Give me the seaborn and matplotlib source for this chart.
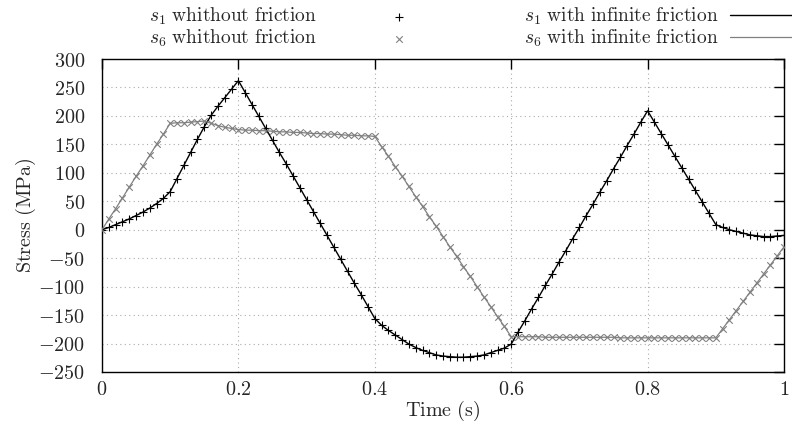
import numpy as np
import pandas as pd
import matplotlib
matplotlib.use("Agg")
import matplotlib.pyplot as plt
import seaborn as sns

# time samples (s)
time = [0.00, 0.01, 0.02, 0.03, 0.04, 0.05, 0.06, 0.07, 0.08, 0.09,
        0.10, 0.11, 0.12, 0.13, 0.14, 0.15, 0.16, 0.17, 0.18, 0.19,
        0.20, 0.21, 0.22, 0.23, 0.24, 0.25, 0.26, 0.27, 0.28, 0.29,
        0.30, 0.31, 0.32, 0.33, 0.34, 0.35, 0.36, 0.37, 0.38, 0.39,
        0.40, 0.41, 0.42, 0.43, 0.44, 0.45, 0.46, 0.47, 0.48, 0.49,
        0.50, 0.51, 0.52, 0.53, 0.54, 0.55, 0.56, 0.57, 0.58, 0.59,
        0.60, 0.61, 0.62, 0.63, 0.64, 0.65, 0.66, 0.67, 0.68, 0.69,
        0.70, 0.71, 0.72, 0.73, 0.74, 0.75, 0.76, 0.77, 0.78, 0.79,
        0.80, 0.81, 0.82, 0.83, 0.84, 0.85, 0.86, 0.87, 0.88, 0.89,
        0.90, 0.91, 0.92, 0.93, 0.94, 0.95, 0.96, 0.97, 0.98, 0.99,
        1.00]

# stress s1 (MPa)
s1 = [0, 4, 9, 14, 19, 25, 31, 38, 46, 55,
      67, 90, 113, 136, 159, 181, 201, 217, 232, 247,
      262, 241, 220, 199, 178, 157, 136, 116, 95, 74,
      53, 32, 11, -10, -31, -52, -73, -94, -114, -135,
      -156, -168, -177, -185, -193, -201, -207, -212, -216, -220,
      -222, -223, -224, -224, -223, -222, -220, -216, -212, -208,
      -201, -180, -160, -139, -119, -98, -78, -57, -37, -16,
      4, 25, 45, 66, 86, 107, 127, 148, 168, 189,
      209, 189, 169, 149, 129, 109, 89, 69, 49, 29,
      9, 4, 0, -3, -6, -9, -10.5, -12, -12, -11,
      -10]

# stress s6 (MPa)
s6 = [0, 19, 37, 56, 75, 94, 112, 131, 150, 168,
      187, 188, 188, 189, 190, 191, 187, 183, 180, 178,
      176, 175, 175, 174, 174, 173, 172, 172, 171, 171,
      170, 169, 169, 168, 168, 167, 166, 166, 165, 165,
      164, 146, 129, 111, 94, 76, 58, 41, 23, 6,
      -12, -30, -47, -65, -82, -100, -118, -135, -153, -170,
      -188, -188, -188, -188, -188, -189, -189, -189, -189, -189,
      -189, -189, -189, -189, -189, -189, -190, -190, -190, -190,
      -190, -190, -190, -190, -190, -190, -190, -190, -190, -190,
      -190, -174, -158, -142, -126, -110, -94, -78, -62, -46,
      -30]

xticks = [0, 0.2, 0.4, 0.6, 0.8, 1]
yticks = [-250, -200, -150, -100, -50, 0, 50, 100, 150, 200, 250, 300]

df = pd.DataFrame({"time": time, "s1": s1, "s6": s6})

sns.set_theme(style="white")
plt.rcParams["mathtext.fontset"] = "cm"
plt.rcParams["font.family"] = ["DejaVu Serif"]

fs = 14.5
fs_leg = 14
grey = "#808080"

fig = plt.figure(figsize=(7.92, 4.32), dpi=100)
ax = fig.add_axes([0.1288, 0.1389, 0.8611, 0.7245])

# without friction: points only
sns.scatterplot(data=df, x="time", y="s1", ax=ax, marker="+", color="black",
                s=38, linewidth=0.8, label=r"$s_1\ \mathrm{whithout\ friction}$", legend=False, zorder=3)
sns.scatterplot(data=df, x="time", y="s6", ax=ax, marker="x", color=grey,
                s=22, linewidth=0.8, label=r"$s_6\ \mathrm{whithout\ friction}$", legend=False, zorder=3)
# with infinite friction: lines
sns.lineplot(data=df, x="time", y="s1", ax=ax, color="black", lw=1.0,
             label=r"$s_1\ \mathrm{with\ infinite\ friction}$", legend=False, zorder=4)
sns.lineplot(data=df, x="time", y="s6", ax=ax, color=grey, lw=0.9,
             label=r"$s_6\ \mathrm{with\ infinite\ friction}$", legend=False, zorder=4)

ax.set_xlim(0, 1)
ax.set_ylim(-250, 300)
ax.set_xticks(xticks, labels=[f"${t:g}$" for t in xticks])
ax.set_yticks(yticks, labels=[f"${t:g}$" for t in yticks])
ax.tick_params(direction="in", length=7, width=1, top=True, right=True,
               labelsize=fs, color="black")
ax.tick_params(axis="x", pad=6)
ax.tick_params(axis="y", pad=12)
ax.grid(True, linestyle=(0, (1, 3)), color="#aaaaaa", linewidth=0.8)
ax.set_axisbelow(True)
for sp in ax.spines.values():
    sp.set_color("black")
    sp.set_linewidth(1.0)

ax.set_xlabel(r"$\mathrm{Time\ (s)}$", fontsize=fs, labelpad=0)
ax.set_ylabel(r"$\mathrm{Stress\ (MPa)}$", fontsize=fs, labelpad=0)

handles, labels = ax.get_legend_handles_labels()
leg1 = fig.legend(handles[:2], labels[:2], loc="upper right", bbox_to_anchor=(418 / 792, 1 - 6 / 432),
                  markerfirst=False, frameon=False, fontsize=fs_leg, handlelength=2,
                  handletextpad=3.2, borderpad=0, borderaxespad=0, labelspacing=0.02)
leg2 = fig.legend(handles[2:], labels[2:], loc="upper right", bbox_to_anchor=(792 / 792, 1 - 6 / 432),
                  markerfirst=False, frameon=False, fontsize=fs_leg, handlelength=3.2,
                  handletextpad=0.6, borderpad=0, borderaxespad=0, labelspacing=0.02)

fig.savefig("out.png", dpi=100)
